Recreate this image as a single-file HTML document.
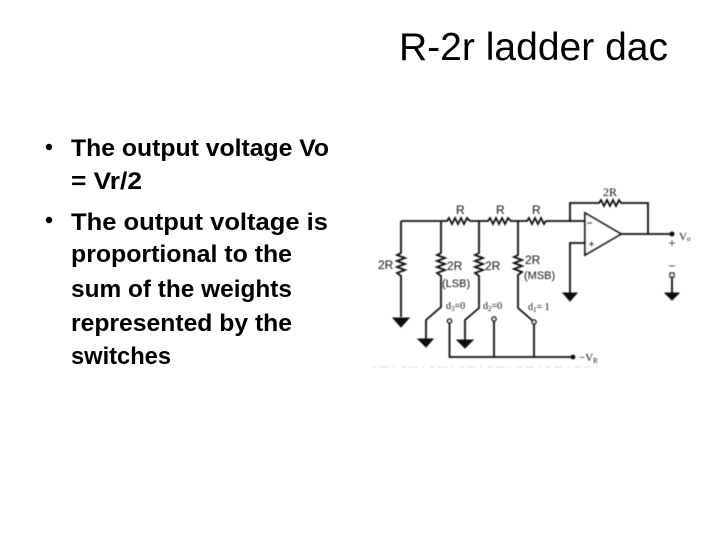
<!DOCTYPE html>
<html><head><meta charset="utf-8"><style>
html,body{margin:0;padding:0;background:#fff;width:720px;height:540px;overflow:hidden}
svg{display:block}
text{font-family:"Liberation Sans",sans-serif;fill:#000}
.b{font-size:24.500px;font-weight:bold}
.d{font-size:12px;fill:#111}
.w{fill:none;stroke:#111;stroke-width:1.800}
.g{fill:#111;stroke:#111;stroke-width:1}
</style></head><body>
<svg width="720" height="540" viewBox="0 0 720 540" xmlns="http://www.w3.org/2000/svg">
<defs><filter id="s"><feGaussianBlur stdDeviation="0.450"/></filter></defs>
<text x="399" y="60" font-size="39" textLength="269" lengthAdjust="spacingAndGlyphs">R-2r ladder dac</text>

<circle cx="49" cy="147" r="3.200" fill="#000"/>
<circle cx="49" cy="220" r="3.200" fill="#000"/>
<text class="b" x="71" y="156" textLength="258" lengthAdjust="spacingAndGlyphs">The output voltage Vo</text>
<text class="b" x="71" y="189" textLength="71" lengthAdjust="spacingAndGlyphs">= Vr/2</text>
<text class="b" x="71" y="230" textLength="257" lengthAdjust="spacingAndGlyphs">The output voltage is</text>
<text class="b" x="71" y="262" textLength="221" lengthAdjust="spacingAndGlyphs">proportional to the</text>
<text class="b" x="71" y="297" textLength="221" lengthAdjust="spacingAndGlyphs">sum of the weights</text>
<text class="b" x="71" y="331" textLength="221" lengthAdjust="spacingAndGlyphs">represented by the</text>
<text class="b" x="71" y="364" textLength="100" lengthAdjust="spacingAndGlyphs">switches</text>

<g filter="url(#s)">
<!-- top rail -->
<path class="w" d="M401 221H447l2-3 3 6 3-6 3 6 3-6 3 6 3-6 3 3H488l2-3 3 6 3-6 3 6 3-6 3 6 3-6 3 3H527l2-3 3 6 3-6 3 6 3-6 3 6 2-3H585"/>
<!-- left 2R -->
<path class="w" d="M401 221V253l-4 2 8 3-8 3 8 3-8 3 8 3-8 3 4 3V317"/>
<path class="g" d="M393 318H409L401 327Z"/>
<!-- 2R LSB -->
<path class="w" d="M441 221V253l-4 2 8 3-8 3 8 3-8 3 8 3-8 3 4 3V307L426 320V339"/>
<path class="g" d="M418 339H433L426 347Z"/>
<!-- 2R d2 -->
<path class="w" d="M479 221V253l-4 2 8 3-8 3 8 3-8 3 8 3-8 3 4 3V308L465 320V340"/>
<path class="g" d="M457 340H473L465 348Z"/>
<!-- 2R MSB -->
<path class="w" d="M518 221V255l-4 2 8 3-8 3 8 3-8 3 8 3-4 3V308L533 321"/>
<!-- contacts and bus -->
<circle cx="449.500" cy="321" r="2" fill="#fff" stroke="#111" stroke-width="1.500"/>
<circle cx="494" cy="319" r="2" fill="#fff" stroke="#111" stroke-width="1.500"/>
<circle cx="534" cy="322" r="2" fill="#fff" stroke="#111" stroke-width="1.500"/>
<path class="w" d="M449.500 323V357H573M494 321V357M534 324V357"/>
<circle cx="573" cy="357" r="2.400" fill="#111"/>
<!-- op amp -->
<path d="M585 213L621 234L585 255Z" fill="#fff" stroke="#111" stroke-width="1.800"/>
<path class="w" d="M570 222V203H599l2-3 3 6 3-6 3 6 3-6 3 6 3-6 2 3H648V234"/>
<path class="w" d="M621 234H672"/>
<circle cx="672" cy="234" r="2.500" fill="#111"/>
<path class="w" d="M585 243H570V293"/>
<path class="g" d="M563 293H577L570 301Z"/>
<path stroke="#222" stroke-width="1.200" d="M587 223h5M589 244h5M591.500 241.500v5"/>
<!-- output terminals -->
<path stroke="#555" stroke-width="1" d="M669 243h6M672 240v6M669 266h6"/>
<rect x="670" y="273" width="4" height="4" fill="#fff" stroke="#222" stroke-width="1.300"/>
<path class="w" d="M672 277V293"/>
<path class="g" d="M665 293H679L672 300Z"/>
<!-- labels -->
<text class="d" x="456" y="214">R</text>
<text class="d" x="496" y="214">R</text>
<text class="d" x="532" y="214">R</text>
<text class="d" x="603" y="196" style="font-family:'Liberation Serif',serif">2R</text>
<text class="d" x="378" y="269">2R</text>
<text class="d" x="447" y="270">2R</text>
<text class="d" x="485" y="270">2R</text>
<text class="d" x="525" y="264">2R</text>
<text class="d" x="442" y="287" font-size="11" style="font-size:11px">(LSB)</text>
<text class="d" x="524" y="279" style="font-size:11px">(MSB)</text>
<text class="d" x="446" y="309" style="font-family:'Liberation Serif',serif;font-size:10px">d<tspan font-size="7" dy="2">3</tspan><tspan dy="-2">=0</tspan></text>
<text class="d" x="483" y="309" style="font-family:'Liberation Serif',serif;font-size:10px">d<tspan font-size="7" dy="2">2</tspan><tspan dy="-2">=0</tspan></text>
<text class="d" x="528" y="310" style="font-family:'Liberation Serif',serif;font-size:10px">d<tspan font-size="7" dy="2">1</tspan><tspan dy="-2">= 1</tspan></text>
<text class="d" x="679" y="240" style="font-family:'Liberation Serif',serif;font-size:11px">V<tspan font-size="7" dy="1">o</tspan></text>
<text class="d" x="579" y="361" style="font-family:'Liberation Serif',serif;font-size:11px">−V<tspan font-size="7" dy="2">R</tspan></text>
<!-- scan noise -->
<path stroke="#ddd" stroke-width="1" stroke-dasharray="5 3 9 4 2 6" d="M372 367H600"/>
</g>
</svg>
</body></html>
